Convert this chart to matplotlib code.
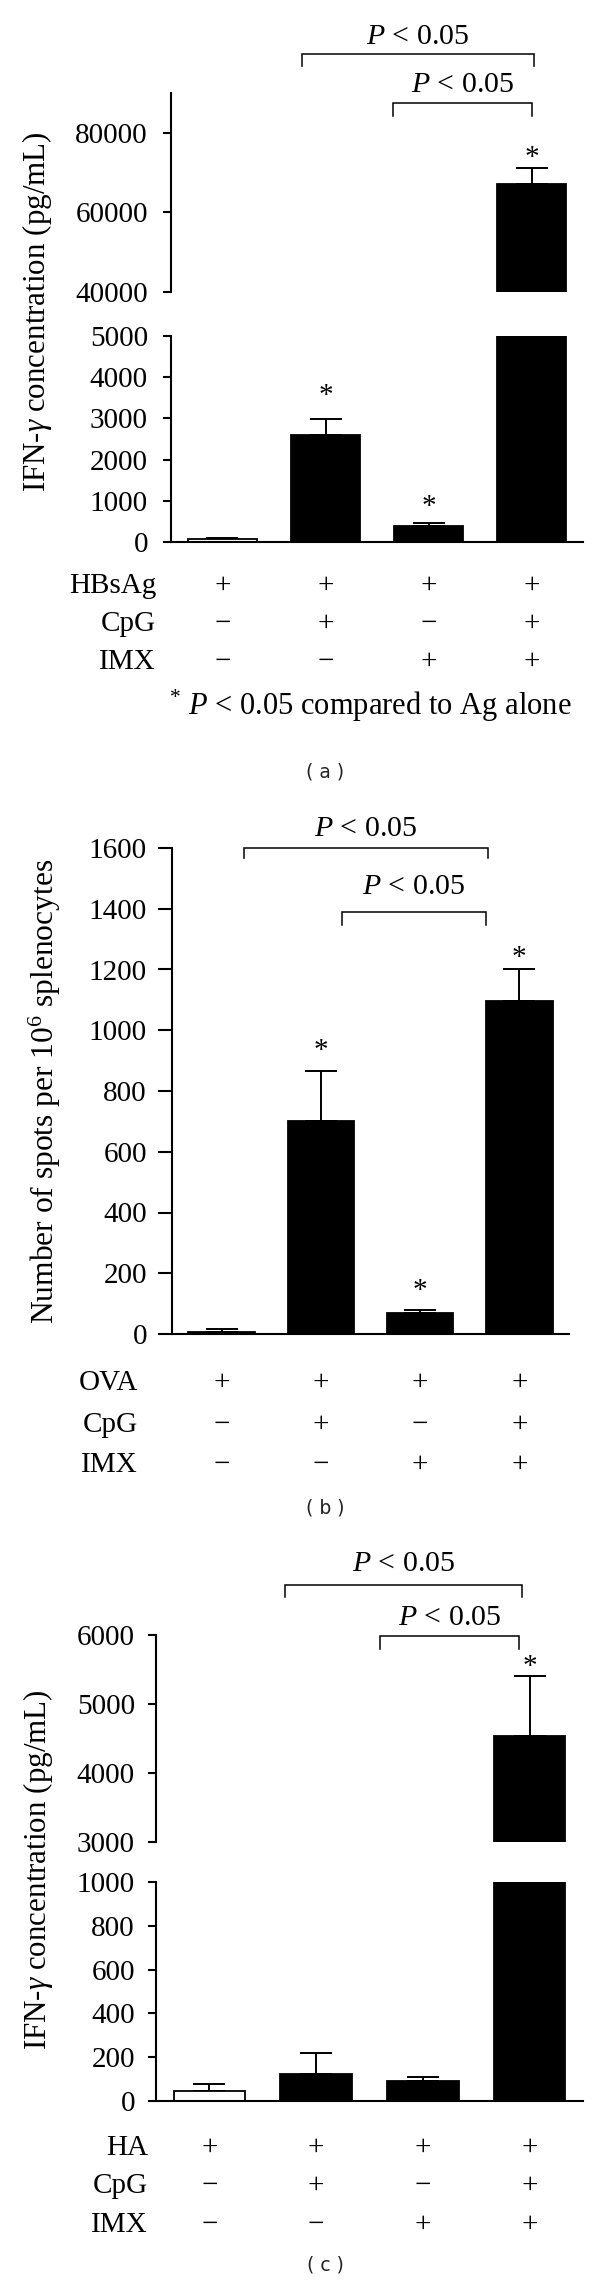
import matplotlib
matplotlib.use("Agg")
import matplotlib.pyplot as plt
from matplotlib.transforms import blended_transform_factory

plt.rcParams['font.family'] = ['Liberation Serif', 'DejaVu Serif']
plt.rcParams['mathtext.fontset'] = 'custom'
plt.rcParams['mathtext.rm'] = 'Liberation Serif'
plt.rcParams['mathtext.it'] = 'Liberation Serif:italic'

# ---------------- data ----------------
groups = [0, 1, 2, 3]
signs = [["+", "+", "+", "+"],
         ["\u2212", "+", "\u2212", "+"],
         ["\u2212", "\u2212", "+", "+"]]

a_rows = ["HBsAg", "CpG", "IMX"]
a_vals = [70, 2600, 380, 67200]
a_errs = [25, 380, 70, 3900]
a_colors = ["white", "black", "black", "black"]
a_low_ticks = [0, 1000, 2000, 3000, 4000, 5000]
a_up_ticks = [40000, 60000, 80000]

b_rows = ["OVA", "CpG", "IMX"]
b_vals = [8, 700, 70, 1095]
b_errs = [8, 165, 9, 105]
b_colors = ["black", "black", "black", "black"]
b_ticks = [0, 200, 400, 600, 800, 1000, 1200, 1400, 1600]

c_rows = ["HA", "CpG", "IMX"]
c_vals = [45, 125, 90, 4530]
c_errs = [32, 95, 20, 870]
c_colors = ["white", "black", "black", "black"]
c_low_ticks = [0, 200, 400, 600, 800, 1000]
c_up_ticks = [3000, 4000, 5000, 6000]

ptext = "$P$ < 0.05"
ylab_ifn = "IFN-$\\gamma$ concentration (pg/mL)"
ylab_spots = "Number of spots per 10$^6$ splenocytes"
footnote = "$^{*}$ $P$ < 0.05 compared to Ag alone"

# ---------------- layout helpers ----------------
W, H = 600, 2280
FS = 21
FS_LAB = 22.3
fig = plt.figure(figsize=(W / 100, H / 100), dpi=100)


def fbox(x0, y0, x1, y1):
    return [x0 / W, 1 - y1 / H, (x1 - x0) / W, (y1 - y0) / H]


def fy(y):
    return 1 - y / H


def style(ax, ticklen, pad, bottom=True):
    for s in ["top", "right"]:
        ax.spines[s].set_visible(False)
    ax.spines["bottom"].set_visible(bottom)
    ax.spines["left"].set_linewidth(1.5)
    ax.spines["bottom"].set_linewidth(1.5)
    ax.tick_params(axis="y", direction="out", length=ticklen, width=1.5,
                   pad=pad, labelsize=FS)
    ax.tick_params(axis="x", bottom=False, labelbottom=False)
    ax.set_facecolor("none")


def draw_bars(ax, vals, errs, colors):
    ax.bar(groups, vals, width=0.67, color=colors, edgecolor="black",
           linewidth=1.3, zorder=2)
    ax.errorbar(groups, vals, yerr=[[0] * 4, errs], fmt="none", ecolor="black",
                elinewidth=1.4, capsize=11.5, capthick=1.4, zorder=1.5)


def star(ax, i, vals, errs, off):
    ax.annotate("*", xy=(i, vals[i] + errs[i]), xytext=(0, off),
                textcoords="offset points", ha="center", va="baseline",
                fontsize=FS, annotation_clip=False)


def bracket(ax, x0, x1, y, yend, off=7):
    ax.plot([x0, x0, x1, x1], [yend, y, y, yend], color="black", lw=1.1,
            clip_on=False, solid_joinstyle="miter")
    ax.annotate(ptext, xy=((x0 + x1) / 2, y), xytext=(0, off),
                textcoords="offset points", ha="center", va="baseline",
                fontsize=21.5, annotation_clip=False)


def table(ax, rows, label_right, row_ys):
    tr = blended_transform_factory(ax.transData, fig.transFigure)
    for r, (name, yc) in enumerate(zip(rows, row_ys)):
        fig.text(label_right / W, fy(yc + 10), name, ha="right",
                 va="baseline", fontsize=FS)
        for i in groups:
            ax.text(i, fy(yc + 10), signs[r][i], transform=tr, ha="center",
                    va="baseline", fontsize=FS)


def caption(y, s):
    fig.text(325 / W, fy(y), s, ha="center", va="center", fontsize=13.5,
             family="DejaVu Sans", color="#222222")


# ================= panel (a) =================
ax_au = fig.add_axes(fbox(171, 93, 583, 292))
ax_al = fig.add_axes(fbox(171, 336, 583, 542))
for ax in (ax_au, ax_al):
    draw_bars(ax, a_vals, a_errs, a_colors)
style(ax_au, 5.8, 10.8, bottom=False)
style(ax_al, 5.8, 10.8)
star(ax_al, 1, a_vals, a_errs, 11.5)
star(ax_al, 2, a_vals, a_errs, 7)
star(ax_au, 3, a_vals, a_errs, 2)
bracket(ax_au, 0.77, 3.02, 99800, 96800, off=7)
bracket(ax_au, 1.66, 3.0, 87500, 84200, off=8)
ax_au.set_ylim(40000, 90000)
ax_au.set_yticks(a_up_ticks)
ax_al.set_ylim(0, 5000)
ax_al.set_yticks(a_low_ticks)
for ax in (ax_au, ax_al):
    ax.set_xlim(-0.5, 3.5)
table(ax_al, a_rows, 156, [583, 621, 659])
fig.text(37 / W, fy(312), ylab_ifn, rotation=90, ha="center", va="center",
         fontsize=FS_LAB)
fig.text(169 / W, fy(715), footnote, ha="left", va="baseline", fontsize=22)
caption(772, "( a )")

# ================= panel (b) =================
ax_b = fig.add_axes(fbox(172, 848, 569, 1334))
draw_bars(ax_b, b_vals, b_errs, b_colors)
style(ax_b, 10, 8)
star(ax_b, 1, b_vals, b_errs, 9.4)
star(ax_b, 2, b_vals, b_errs, 8.6)
star(ax_b, 3, b_vals, b_errs, 3)
bracket(ax_b, 0.23, 2.68, 1600, 1567, off=9)
bracket(ax_b, 1.21, 2.66, 1389, 1347, off=13)
ax_b.set_ylim(0, 1600)
ax_b.set_yticks(b_ticks)
ax_b.set_xlim(-0.5, 3.5)
table(ax_b, b_rows, 138, [1380, 1422, 1462])
fig.text(45 / W, fy(1091), ylab_spots, rotation=90, ha="center", va="center",
         fontsize=FS_LAB + 0.4)
caption(1508, "( b )")

# ================= panel (c) =================
ax_cu = fig.add_axes(fbox(156, 1635, 583, 1842))
ax_cl = fig.add_axes(fbox(156, 1882, 583, 2101))
for ax in (ax_cu, ax_cl):
    draw_bars(ax, c_vals, c_errs, c_colors)
style(ax_cu, 5.8, 9.4, bottom=False)
style(ax_cl, 5.8, 9.4)
star(ax_cu, 3, c_vals, c_errs, 1.5)
bracket(ax_cu, 0.71, 2.93, 6725, 6551, off=10)
bracket(ax_cu, 1.6, 2.9, 5986, 5797, off=8)
ax_cu.set_ylim(3000, 6000)
ax_cu.set_yticks(c_up_ticks)
ax_cl.set_ylim(0, 1000)
ax_cl.set_yticks(c_low_ticks)
for ax in (ax_cu, ax_cl):
    ax.set_xlim(-0.5, 3.5)
table(ax_cl, c_rows, 148, [2145, 2183, 2222])
fig.text(38 / W, fy(1870), ylab_ifn, rotation=90, ha="center", va="center",
         fontsize=FS_LAB)
caption(2265, "( c )")

fig.savefig("out.png", dpi=100, facecolor="white")
